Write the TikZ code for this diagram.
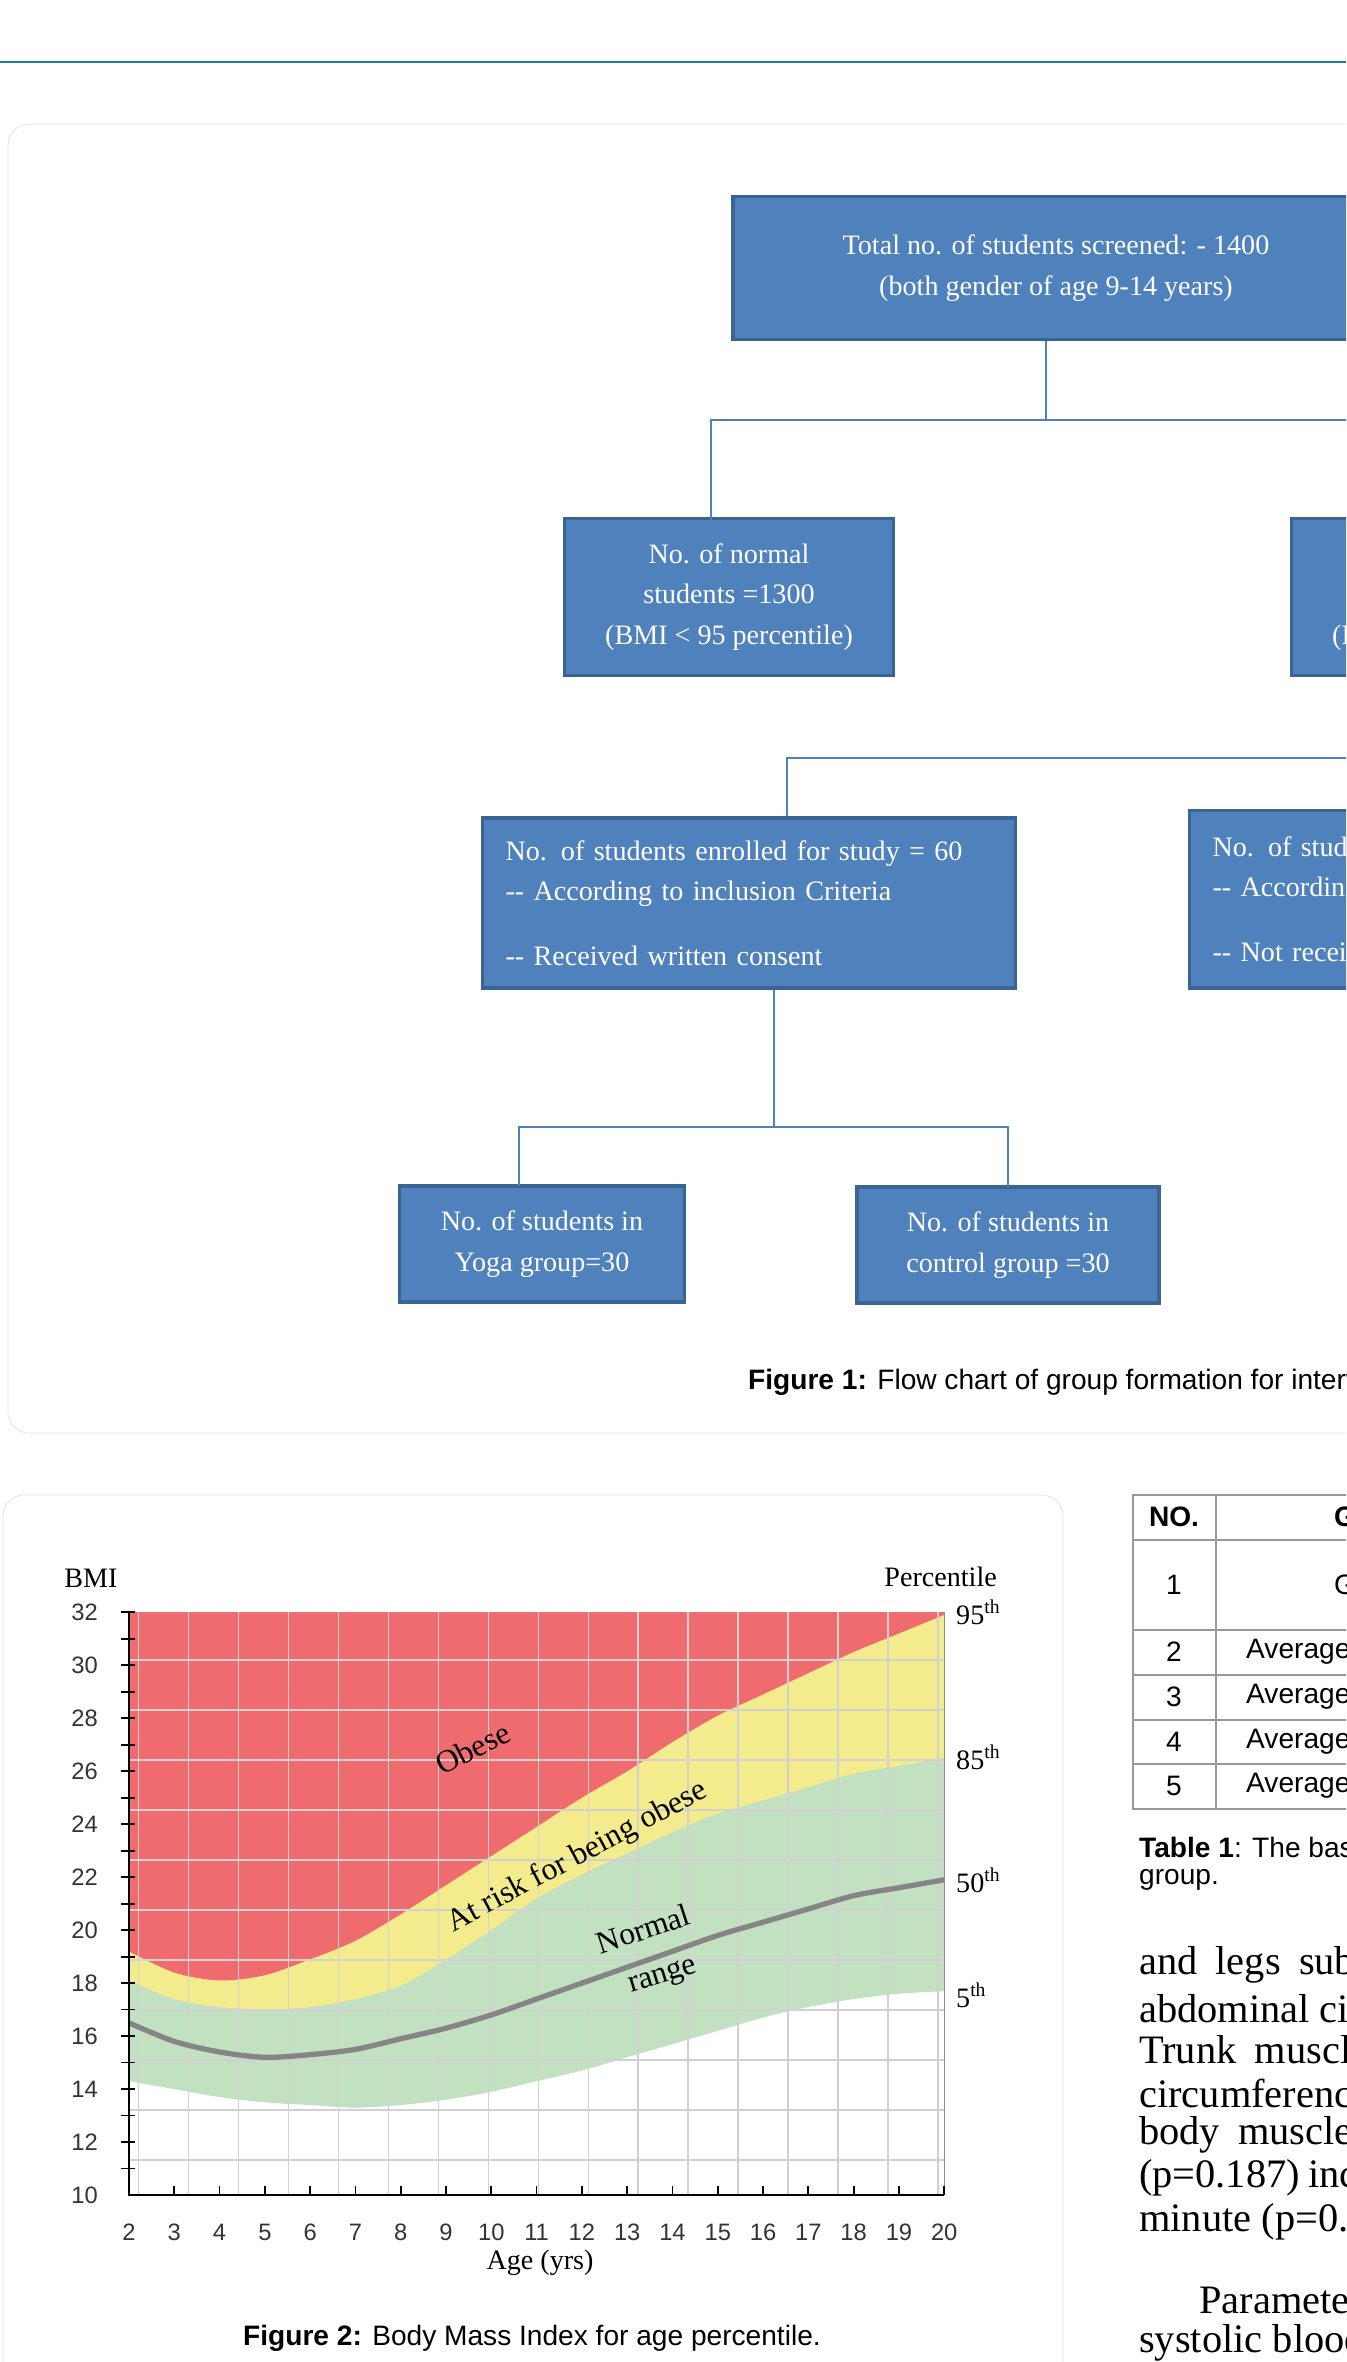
\documentclass[tikz,border=0pt]{standalone}
\usepackage{fontspec}
\setmainfont{Liberation Serif}
\setsansfont{Liberation Sans}
\usepackage{tikz}

\definecolor{boxblue}{HTML}{4F81BD}
\definecolor{boxedge}{HTML}{3A6493}
\definecolor{headline}{HTML}{1B7FA3}
\definecolor{obesered}{HTML}{EF6B6E}
\definecolor{riskyellow}{HTML}{F4EC8C}
\definecolor{normalgreen}{HTML}{C2E1C0}
\definecolor{mediangray}{HTML}{858585}

\begin{document}
\begin{tikzpicture}[x=0.02cm, y=-0.02cm,
    box/.style={draw=boxedge, line width=2pt, fill=boxblue, text=white, align=center,
        inner sep=0pt, font=\fontsize{16}{23}\selectfont},
    conn/.style={draw=boxblue, line width=1.6pt},
    tick/.style={font=\sffamily\fontsize{13.5}{15}\selectfont, text=black!80},
    serif/.style={font=\fontsize{16}{19}\selectfont},
    zone/.style={font=\fontsize{18}{20}\selectfont},
    caption/.style={font=\sffamily\fontsize{16}{19}\selectfont},
    body/.style={anchor=west, font=\fontsize{23}{28}\selectfont}]
    \useasboundingbox (0,0) rectangle (1346,2362);
    \clip (0,0) rectangle (1346,2362);

    % Header rule and panels
    \draw[headline, line width=1.7pt] (0,62) -- (1346,62);
    \draw[black!12, rounded corners=12pt] (8,124) rectangle (1420,1433);
    \draw[black!12, rounded corners=12pt] (3,1495) rectangle (1063,2430);

    % Flow chart boxes
    \node[box, minimum width=12.52cm, minimum height=2.86cm] (total) at (1046,268)
        {\hspace*{0.4cm}Total no. of students screened: - 1400\\\hspace*{0.4cm}(both gender of age 9-14 years)};
    \node[box, minimum width=6.58cm, minimum height=3.14cm] (normal) at (729,597)
        {No. of normal\\students =1300\\(BMI < 95 percentile)};
    \node[box, minimum width=6.58cm, minimum height=3.14cm] (obese) at (1456,597)
        {No. of obese\\students =100\\(BMI > 95 percentile)};
    \node[box, minimum width=10.66cm, minimum height=3.4cm, text width=9.74cm, align=left] (enrolled) at (749,903)
        {No. of students enrolled for study = 60\\{-}{-} According to inclusion Criteria\\[14pt]{-}{-} Received written consent};
    \node[box, minimum width=10.66cm, minimum height=3.55cm, text width=9.74cm, align=left] (excluded) at (1456,899)
        {No. of students not enrolled = 40\\{-}{-} According to exclusion Criteria\\[14pt]{-}{-} Not received written consent};
    \node[box, minimum width=5.7cm, minimum height=2.32cm] (yoga) at (542,1244)
        {No. of students in\\Yoga group=30};
    \node[box, minimum width=6.04cm, minimum height=2.32cm] (control) at (1008,1245)
        {No. of students in\\control group =30};

    % Connectors
    \coordinate (split) at (1046,420);
    \coordinate (toNormal) at (711,521);
    \coordinate (toObese) at (1381,521);
    \coordinate (toEnrolled) at (787,758);
    \coordinate (groups) at (774,1127);
    \coordinate (toYoga) at (519,1186);
    \coordinate (toControl) at (1008,1187);
    \draw[conn] (total.south -| split) -- (split);
    \draw[conn] (toNormal) |- (split) -| (toObese);
    \draw[conn] (obese.south) |- (toEnrolled) -- (toEnrolled |- enrolled.north);
    \draw[conn] (groups |- enrolled.south) -- (groups);
    \draw[conn] (toYoga) |- (groups) -| (toControl);

    \node[caption, anchor=west] (fig1) at (742,1382)
        {\textbf{Figure 1:} Flow chart of group formation for intervention.};

    % BMI for age chart
    \begin{scope}[shift={(38.4,2460)}, x=0.906cm, y=0.53cm]
        \fill[normalgreen] plot[smooth] coordinates {(2,14.3) (3,14.0) (4,13.7) (5,13.5) (6,13.4) (7,13.3) (8,13.4) (9,13.6) (10,13.9) (11,14.3) (12,14.7) (13,15.2) (14,15.7) (15,16.2) (16,16.7) (17,17.1) (18,17.4) (19,17.6) (20,17.7)} -- (20,32) -- (2,32) -- cycle;
        \fill[riskyellow] plot[smooth] coordinates {(2,18.1) (3,17.4) (4,17.1) (5,17.0) (6,17.1) (7,17.4) (8,17.9) (9,18.9) (10,20.0) (11,21.2) (12,22.1) (13,22.9) (14,23.7) (15,24.4) (16,24.9) (17,25.4) (18,25.9) (19,26.2) (20,26.5)} -- (20,32) -- (2,32) -- cycle;
        \fill[obesered] plot[smooth] coordinates {(2,19.2) (3,18.4) (4,18.1) (5,18.3) (6,18.9) (7,19.6) (8,20.6) (9,21.7) (10,22.8) (11,23.9) (12,25.0) (13,26.0) (14,27.1) (15,28.1) (16,28.9) (17,29.7) (18,30.5) (19,31.2) (20,31.9)} -- (20,32) -- (2,32) -- cycle;
        \draw[black!18, line width=0.9pt] (2,10) grid (20,32);
        \draw[mediangray, line width=3pt] plot[smooth] coordinates {(2,16.5) (3,15.8) (4,15.4) (5,15.2) (6,15.3) (7,15.5) (8,15.9) (9,16.3) (10,16.8) (11,17.4) (12,18.0) (13,18.6) (14,19.2) (15,19.8) (16,20.3) (17,20.8) (18,21.3) (19,21.6) (20,21.9)};
        \draw[black!45] (20,10) -- (20,32);
        \draw[line width=1.2pt] (2,32) -- (2,10) -- (20,10);
        \foreach \b in {11,...,32}
            \draw[line width=1pt] (1.83,\b) -- (2.13,\b);
        \foreach \a in {3,...,20}
            \draw[line width=1pt] (\a,10) -- (\a,10.35);
        \foreach \b in {10,12,...,32}
            \node[tick, anchor=east] (bmi\b) at (1.45,\b) {\b};
        \foreach \a in {2,...,20}
            \node[tick] (age\a) at (\a,8.6) {\a};
        \node[zone, rotate=27] (obeseLabel) at (9.59,26.87) {Obese};
        \node[zone, rotate=28] (riskLabel) at (11.9,22.75) {At risk for being obese};
        \node[zone, rotate=18] (normalLabel) at (13.35,20.05) {Normal};
        \node[zone, rotate=17] (rangeLabel) at (13.8,18.2) {range};
    \end{scope}
    \node[serif] (bmiTitle) at (91,1578) {BMI};
    \node[serif, anchor=east] (pctTitle) at (1003,1577) {Percentile};
    \node[serif, anchor=west] (p95) at (950,1612) {95\textsuperscript{th}};
    \node[serif, anchor=west] (p85) at (950,1757) {85\textsuperscript{th}};
    \node[serif, anchor=west] (p50) at (950,1880) {50\textsuperscript{th}};
    \node[serif, anchor=west] (p5) at (950,1995) {5\textsuperscript{th}};
    \node[serif] (ageTitle) at (540,2263) {Age (yrs)};
    \node[caption] (fig2) at (532,2338) {\textbf{Figure 2:} Body Mass Index for age percentile.};

    % Table 1
    \draw[black!40, line width=0.8pt] (1133,1495) rectangle (1400,1809);
    \draw[black!40, line width=0.8pt] (1216,1495) -- (1216,1809);
    \foreach \r in {1540,1630,1675,1720,1764}
        \draw[black!40, line width=0.8pt] (1133,\r) -- (1400,\r);
    \node[caption] (noHead) at (1174,1517) {\textbf{NO.}};
    \node[caption, anchor=west] (grpHead) at (1328,1517) {\textbf{G}};
    \node[caption] (row1) at (1174,1585) {1};
    \node[caption, anchor=west] (row1b) at (1328,1585) {G};
    \foreach \n/\y in {2/1652,3/1697,4/1742,5/1786} {
        \node[caption] (row\n) at (1174,\y) {\n};
        \node[caption, anchor=west] (row\n b) at (1240,\y) {Average};
    }
    \node[caption, anchor=west] (tab1) at (1133,1847) {\textbf{Table 1}: The baseline characteristics};
    \node[caption, anchor=west] (tab1b) at (1133,1880) {group.};

    % Body text
    \node[body] (l1) at (1133,1965) {and\hspace{0.45em}legs\hspace{0.45em}subcutaneous};
    \node[body] (l2) at (1133,2008) {abdominal circumference};
    \node[body] (l3) at (1133,2050) {Trunk\hspace{0.45em}muscle};
    \node[body] (l4) at (1133,2093) {circumference};
    \node[body] (l5) at (1133,2135) {body\hspace{0.45em}muscle};
    \node[body] (l6) at (1133,2178) {(p=0.187)\hspace{0.2em}increased};
    \node[body] (l7) at (1133,2222) {minute (p=0.5};
    \node[body] (l8) at (1193,2300) {Parameters};
    \node[body] (l9) at (1133,2343) {systolic blood};
\end{tikzpicture}
\end{document}
